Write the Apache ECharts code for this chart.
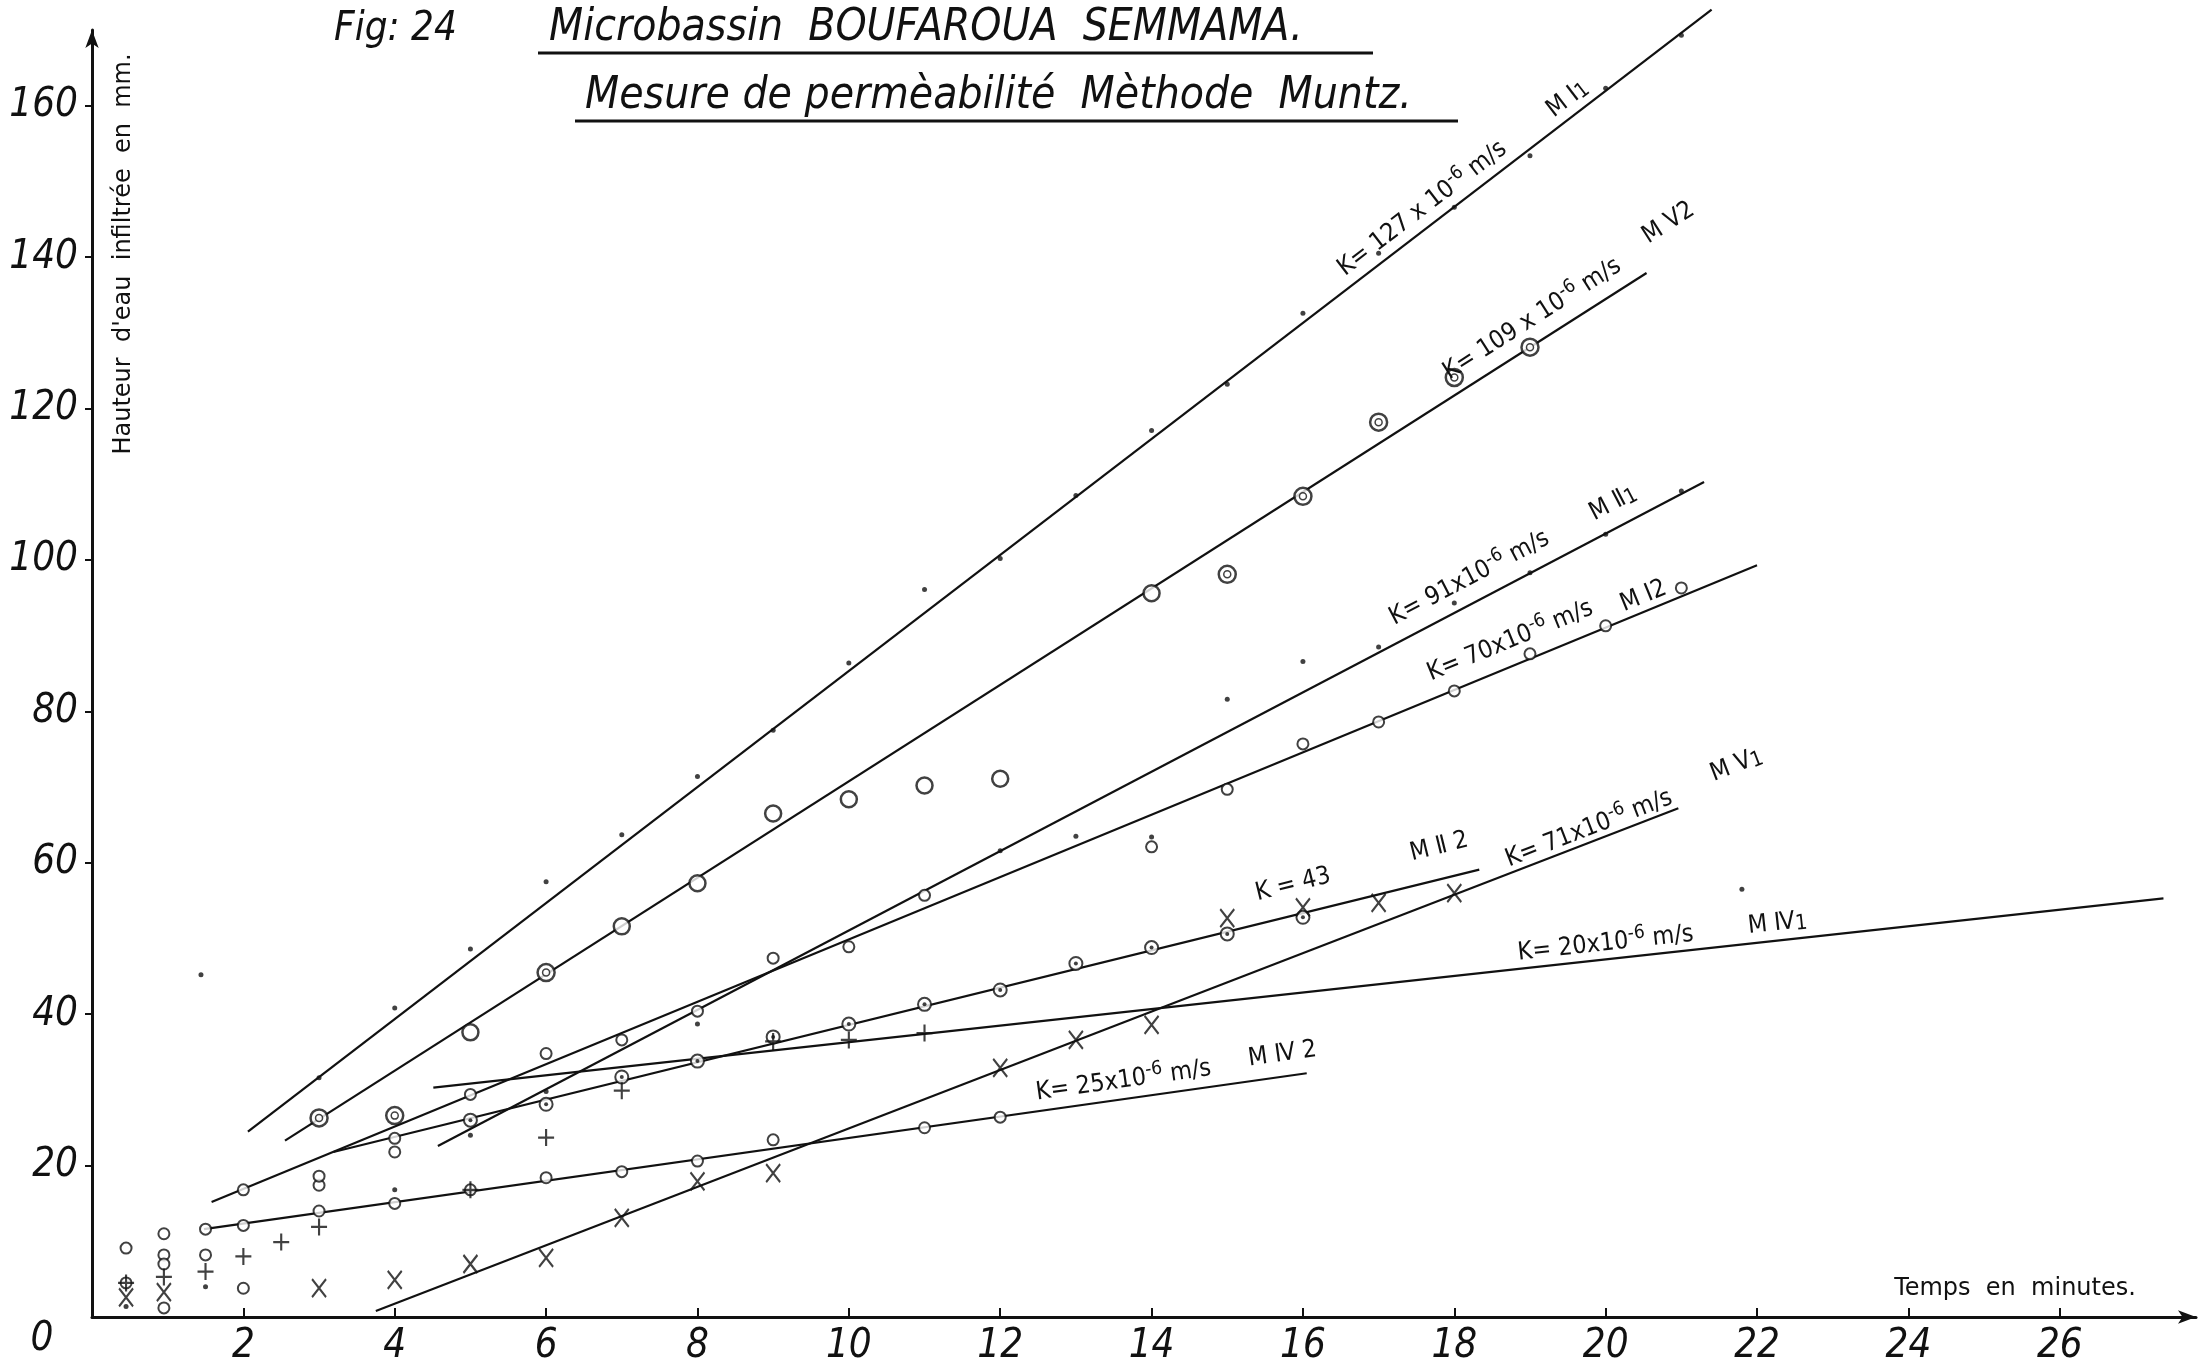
<!DOCTYPE html>
<html><head><meta charset="utf-8">
<script src="https://cdn.jsdelivr.net/npm/echarts@6/dist/echarts.min.js"></script>
<style>html,body{margin:0;padding:0;background:#fff}#c{width:2209px;height:1367px}</style>
</head><body><div id="c"></div>
<script>
// ---------- fitted lines (two end points each) ----------
const fitMI1  = [[2.06, 24.5], [21.4, 172.7]];
const fitMV2  = [[2.55, 23.3], [20.54, 137.9]];
const fitMII1 = [[4.57, 22.6], [21.3, 110.3]];
const fitMI2  = [[1.58, 15.2], [22.0, 99.3]];
const fitMII2 = [[3.19, 21.8], [18.33, 59.1]];
const fitMV1  = [[3.75, 0.8], [20.96, 67.2]];
const fitMIV1 = [[4.51, 30.3], [27.37, 55.3]];
const fitMIV2 = [[1.48, 11.6], [16.05, 32.2]];

// ---------- measured points ----------
const ptsMI1 = [[3,31.6],[4,40.8],[5,48.6],[6,57.5],[7,63.7],[8,71.4],[9,77.5],[10,86.4],[11,96.1],[12,100.2],[13,108.5],[14,117.1],[15,123.2],[16,132.6],[17,140.5],[18,146.6],[19,153.4],[20,162.3],[21,169.3]];
const ptsMV2open = [[5,37.6],[7,51.6],[8,57.3],[9,66.5],[10,68.4],[11,70.2],[12,71.1],[14,95.6]];
const ptsMV2ringed = [[3,26.3],[4,26.6],[6,45.5],[15,98.1],[16,108.4],[17,118.2],[18,124.1],[19,128.1]];
const ptsMII1 = [[4,16.8],[5,24.0],[6,29.8],[8,38.7],[12,61.6],[13,63.5],[14,63.4],[15,81.6],[16,86.6],[17,88.5],[18,94.3],[19,98.3],[20,103.4],[21,109.1]];
const ptsMI2 = [[2,16.8],[3,17.4],[3,18.6],[4,23.6],[4,21.8],[5,29.4],[6,34.8],[7,36.6],[8,40.4],[9,47.4],[10,48.9],[11,55.7],[14,62.1],[15,69.7],[16,75.7],[17,78.6],[18,82.7],[19,87.6],[20,91.3],[21,96.3]];
const ptsMII2 = [[5,26.0],[6,28.1],[7,31.7],[8,33.8],[9,37.0],[10,38.7],[11,41.3],[12,43.2],[13,46.7],[14,48.8],[15,50.6],[16,52.8]];
const ptsMII2cross = [[15,52.7],[16,54.1],[17,54.7]];
const ptsMV1 = [[0.45,2.6],[0.95,3.3],[3,3.8],[4,4.9],[5,7.0],[6,7.8],[7,13.1],[8,17.9],[9,19.0],[12,32.9],[13,36.6],[14,38.6],[18,56.0]];
const ptsMIV1 = [[0.45,4.5],[0.95,5.3],[1.5,6.0],[2,8.0],[2.5,9.9],[3,11.9],[5,16.8],[6,23.7],[7,29.9],[9,36.4],[10,36.6],[11,37.5]];
const ptsMIV2 = [[1.5,11.6],[2,12.1],[3,14.0],[4,15.0],[5,16.8],[6,18.4],[7,19.2],[8,20.6],[9,23.4],[11,25.0],[12,26.4]];
const ptsEarlyCircles = [[0.45,9.1],[0.45,4.5],[0.95,11.0],[0.95,8.2],[0.95,7.0],[0.95,1.2],[1.5,8.2],[2,3.8]];
const ptsStrayDots = [[1.5,4.0],[1.44,45.2],[21.8,56.5],[0.45,1.4]];

// ---------- texts ----------
const titleFig = 'Fig: 24';
const title1 = 'Microbassin  BOUFAROUA  SEMMAMA.';
const title2 = 'Mesure de permèabilité  Mèthode  Muntz.';
const yName = "Hauteur  d'eau  infiltrée  en  mm.";
const xName = 'Temps  en  minutes.';

const FONT = "'DejaVu Sans Condensed','Liberation Sans Narrow','DejaVu Sans',sans-serif";
const INK = '#111';
const SYM_X = 'path://M0,0L10,14M10,0L0,14';
const SYM_PLUS = 'path://M5,0L5,10M0,5L10,5';

function fitLine(data){
  return {type:'line', data, symbol:'none', clip:false, silent:true, z:2,
    lineStyle:{color:INK, width:2.2}};
}
function scatter(data, symbol, size, opts){
  const o = Object.assign({fill:'#fff', bw:2}, opts||{});
  return {type:'scatter', data, symbol, symbolSize:size, silent:true, z:o.z||3,
    itemStyle:{color:o.fill, borderColor:INK, borderWidth:o.bw}};
}

const chart = echarts.init(document.getElementById('c'));
const option = {
  backgroundColor:'#fff',
  animation:false,
  grid:{left:92, right:13, top:30, bottom:50},
  xAxis:{type:'value', min:0, max:27.8, interval:2,
    axisLine:{show:true, symbol:['none','arrow'], symbolSize:[10,18], lineStyle:{color:INK, width:3}},
    axisTick:{show:true, inside:true, length:9, lineStyle:{color:INK, width:2}},
    axisLabel:{show:true, showMinLabel:false, showMaxLabel:false, margin:10, color:INK,
      fontSize:40, fontStyle:'italic', fontFamily:FONT},
    splitLine:{show:false}},
  yAxis:{type:'value', min:0, max:170, interval:20,
    axisLine:{show:true, symbol:['none','arrow'], symbolSize:[10,18], lineStyle:{color:INK, width:3}},
    axisTick:{show:true, inside:false, length:7, lineStyle:{color:INK, width:2}},
    axisLabel:{show:true, showMinLabel:false, showMaxLabel:false, margin:14, color:INK,
      fontSize:40, fontStyle:'italic', fontFamily:FONT},
    splitLine:{show:false}},
  series:[
    fitLine(fitMI1), fitLine(fitMV2), fitLine(fitMII1), fitLine(fitMI2),
    fitLine(fitMII2), fitLine(fitMV1), fitLine(fitMIV1), fitLine(fitMIV2),
    scatter(ptsMI1, 'circle', 5, {fill:INK, bw:0}),
    scatter(ptsMII1, 'circle', 5, {fill:INK, bw:0}),
    scatter(ptsStrayDots, 'circle', 5, {fill:INK, bw:0}),
    scatter(ptsMI2, 'circle', 11),
    scatter(ptsMIV2, 'circle', 11),
    scatter(ptsEarlyCircles, 'circle', 11),
    scatter(ptsMV2open, 'circle', 16, {bw:2.5}),
    scatter(ptsMV2ringed, 'circle', 17, {bw:2.5}),
    scatter(ptsMV2ringed, 'circle', 7, {bw:1.5, z:4}),
    scatter(ptsMII2, 'circle', 13),
    scatter(ptsMII2, 'circle', 4, {fill:INK, bw:0, z:4}),
    scatter(ptsMV1, SYM_X, [14,18], {fill:'none', bw:2.2, z:5}),
    scatter(ptsMII2cross, SYM_X, [14,18], {fill:'none', bw:2.2, z:5}),
    scatter(ptsMIV1, SYM_PLUS, [16,17], {fill:'none', bw:2.2, z:5})
  ]
};
chart.setOption(option);

// ---------- annotations placed in data space ----------
const lineLabels = [
  ['K= 127 x 10{s|-6} m/s', 17.58, 146.4, fitMI1],
  ['M Ⅰ{b|1}', 19.5, 160.9, fitMI1],
  ['K= 109 x 10{s|-6} m/s', 19.03, 131.8, fitMV2],
  ['M Ⅴ2', 20.83, 144.5, fitMV2],
  ['K= 91x10{s|-6} m/s', 18.2, 97.6, fitMII1],
  ['M Ⅱ{b|1}', 20.1, 107.5, fitMII1],
  ['K= 70x10{s|-6} m/s', 18.74, 89.3, fitMI2],
  ['M Ⅰ2', 20.5, 95.2, fitMI2],
  ['K = 43', 15.87, 57.1, fitMII2],
  ['M Ⅱ 2', 17.8, 62.1, fitMII2],
  ['K= 71x10{s|-6} m/s', 19.78, 64.5, fitMV1],
  ['M Ⅴ{b|1}', 21.73, 72.9, fitMV1],
  ['K= 20x10{s|-6} m/s', 20.0, 49.3, fitMIV1],
  ['M Ⅳ{b|1}', 22.27, 52.0, fitMIV1],
  ['K= 25x10{s|-6} m/s', 13.63, 31.2, fitMIV2],
  ['M Ⅳ 2', 15.73, 34.7, fitMIV2]
];
function px(p){ return chart.convertToPixel({gridIndex:0}, p); }
function angleOf(fit){
  const a = px(fit[0]), b = px(fit[1]);
  return Math.atan2(a[1]-b[1], b[0]-a[0]);
}
const graphics = [];
lineLabels.forEach(function(l){
  const p = px([l[1], l[2]]);
  graphics.push({type:'text', x:p[0], y:p[1], rotation:angleOf(l[3]), z:10,
    style:{text:l[0], fill:INK, fontSize:25, fontFamily:FONT, align:'center', verticalAlign:'middle',
      rich:{s:{fontSize:19, fontFamily:FONT, fill:INK, verticalAlign:'top', padding:[0,0,14,0]},
            b:{fontSize:21, fontFamily:FONT, fill:INK, verticalAlign:'bottom', padding:[6,0,0,0]}}}});
});
graphics.push(
  {type:'text', x:334, y:30, style:{text:titleFig, fill:INK, fontSize:40, fontStyle:'italic', fontFamily:FONT, align:'left', verticalAlign:'middle'}},
  {type:'text', x:549, y:29, style:{text:title1, fill:INK, fontSize:44, fontStyle:'italic', fontFamily:FONT, align:'left', verticalAlign:'middle'}},
  {type:'line', shape:{x1:538, y1:53, x2:1373, y2:53}, style:{stroke:INK, lineWidth:3}},
  {type:'text', x:585, y:97, style:{text:title2, fill:INK, fontSize:44, fontStyle:'italic', fontFamily:FONT, align:'left', verticalAlign:'middle'}},
  {type:'line', shape:{x1:575, y1:121, x2:1458, y2:121}, style:{stroke:INK, lineWidth:3}},
  {type:'text', x:124, y:254, rotation:Math.PI/2, style:{text:yName, fill:INK, fontSize:24, fontFamily:"'DejaVu Sans',sans-serif", align:'center', verticalAlign:'middle'}},
  {type:'text', x:2015, y:1289, style:{text:xName, fill:INK, fontSize:24, fontFamily:"'DejaVu Sans',sans-serif", align:'center', verticalAlign:'middle'}},
  {type:'text', x:42, y:1340, style:{text:'0', fill:INK, fontSize:40, fontStyle:'italic', fontFamily:FONT, align:'center', verticalAlign:'middle'}}
);
chart.setOption({graphic:graphics});
</script></body></html>
